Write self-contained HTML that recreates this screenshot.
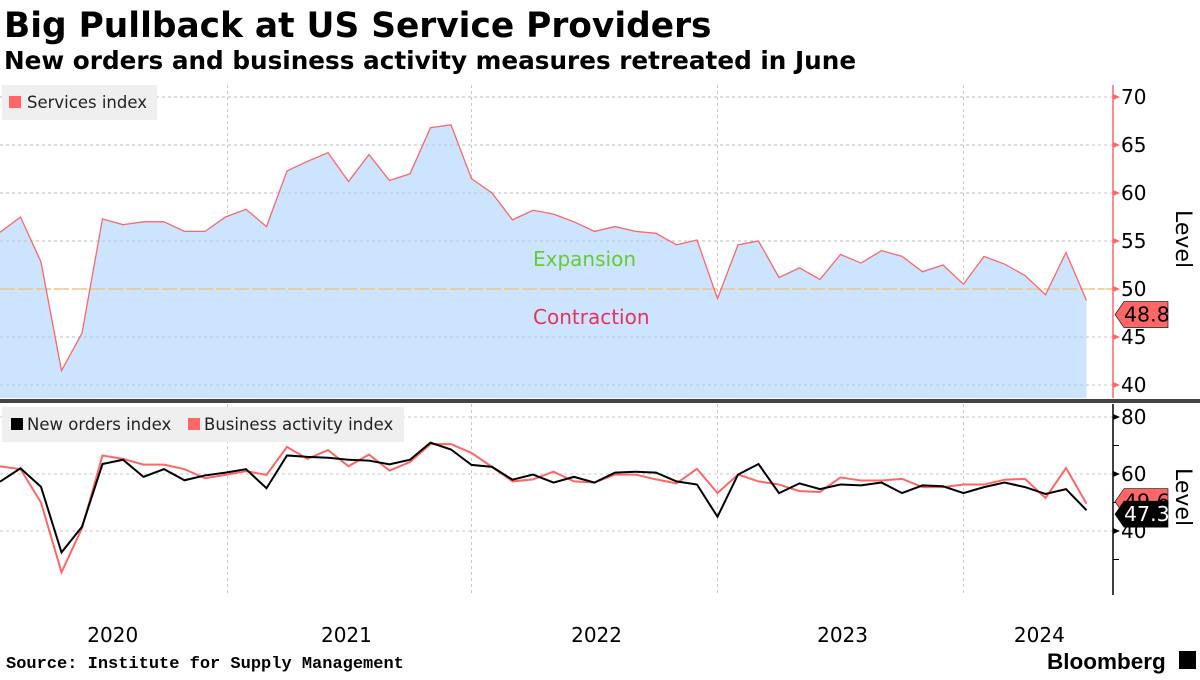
<!DOCTYPE html>
<html><head><meta charset="utf-8"><style>
body{margin:0;background:#fff;font-family:"Liberation Sans",sans-serif;}
svg text{font-family:"DejaVu Sans","Liberation Sans",sans-serif;}
</style></head><body>
<svg id="c" width="1200" height="675" viewBox="0 0 1200 675" xmlns="http://www.w3.org/2000/svg">
<text x="4" y="37" font-size="34.4" font-weight="bold" fill="#000" style="font-family:'DejaVu Sans',sans-serif">Big Pullback at US Service Providers</text>
<text x="4" y="69" font-size="24.7" font-weight="bold" fill="#000" style="font-family:'DejaVu Sans',sans-serif">New orders and business activity measures retreated in June</text>
<g id="top"></g><g id="bot"></g><g id="xax"></g>
<rect x="0" y="399" width="1200" height="4" fill="#444"/>
<rect x="2" y="85" width="155" height="35" fill="#efefef"/>
<rect x="9" y="96" width="12" height="12" fill="#f66"/>
<text x="27" y="108" font-size="16.5" fill="#222">Services index</text>
<rect x="2" y="407" width="402" height="35" fill="#efefef"/>
<rect x="11" y="418" width="12" height="12" fill="#000"/>
<text x="27" y="430" font-size="16.5" fill="#222">New orders index</text>
<rect x="188" y="418" width="12" height="12" fill="#f66"/>
<text x="204" y="430" font-size="16.5" fill="#222">Business activity index</text>
<text x="533" y="266" font-size="20" fill="#6c3">Expansion</text>
<text x="533" y="324" font-size="20" fill="#e8325a">Contraction</text>
<text transform="translate(1176,210) rotate(90)" font-size="22" fill="#000">Level</text>
<text transform="translate(1176,468) rotate(90)" font-size="22" fill="#000">Level</text>
<text x="6" y="668" font-size="17" font-weight="bold" fill="#000" style="font-family:'Liberation Mono',monospace">Source: Institute for Supply Management</text>
<text x="1047" y="669" font-size="22.5" font-weight="bold" fill="#000" style="font-family:'Liberation Sans',sans-serif">Bloomberg</text>
<rect x="1179" y="651" width="17" height="18" fill="#000"/>
</svg>
<script>
const services=[55.9,57.5,52.8,41.5,45.4,57.3,56.7,57,57,56,56,57.5,58.3,56.5,62.3,63.3,64.2,61.2,64,61.3,62,66.8,67.1,61.5,60,57.2,58.2,57.8,57,56,56.5,56,55.8,54.6,55.1,49,54.6,55,51.2,52.2,51,53.6,52.7,54,53.4,51.8,52.5,50.5,53.4,52.6,51.4,49.4,53.8,48.8];
const newOrders=[57.3,62,55.5,32.5,41.5,63.5,65,59,61.7,57.8,59.5,60.5,61.7,55,66.5,66,65.7,65,64.7,63.4,65,71,68.6,63.2,62.5,58,59.8,57,59,57,60.5,60.8,60.5,57.4,56.3,45,59.8,63.5,53.3,56.7,54.7,56.3,56,57,53.3,56,55.7,53.3,55.4,57,55.4,53,54.7,47.3];
const businessActivity=[62.7,61.7,50,25.5,41,66.5,65.3,63.3,63.3,61.7,58.5,59.7,61,59.7,69.5,65.3,68.4,62.7,66.8,61.2,64.2,70.5,70.5,67.4,62.5,57.4,58.1,60.8,57.4,57,59.8,59.8,58.1,56.7,61.8,53.3,59.8,57.4,56.3,54,53.7,58.8,57.7,57.7,58.3,55.4,55.4,56.3,56.3,58,58.3,51.6,62.1,49.6];
const yearLabels=["2020","2021","2022","2023","2024"];
const yearLabelIdx=[5.5,16.9,29.1,41.1,50.7];
const yearGridIdx=[11.1,23,35,47];
const topTicks=[40,45,50,55,60,65,70];
const botTicks=[40,60,80];
const NS="http://www.w3.org/2000/svg";
const X=i=>i*20.5;
const YT=v=>289-(v-50)*9.6;
const YB=v=>417+(80-v)*2.85;
const AX=1113;
function mk(parent,tag,attrs){const e=document.createElementNS(NS,tag);for(const k in attrs)e.setAttribute(k,attrs[k]);document.getElementById(parent).appendChild(e);return e;}
topTicks.forEach(t=>{
 let g=mk('top','line',{x1:0,x2:AX,y1:YT(t),y2:YT(t),stroke:'#c8c8c8','stroke-dasharray':'3,3'});
 
 
});
yearGridIdx.forEach(i=>{
 let g=mk('top','line',{x1:X(i),x2:X(i),y1:85,y2:398,stroke:'#c8c8c8','stroke-dasharray':'3,3'});
 
 
 let h=mk('bot','line',{x1:X(i),x2:X(i),y1:404,y2:595,stroke:'#c8c8c8','stroke-dasharray':'3,3'});
 
 
});
let pts=services.map((v,i)=>X(i)+','+YT(v)).join(' ');
let area=mk('top','polygon',{points:pts+' '+X(services.length-1)+',398 0,398',fill:'#cce4fd'});


topTicks.forEach(t=>{
 let g=mk('top','line',{x1:0,x2:1088,y1:YT(t),y2:YT(t),stroke:'#b0b8c0','stroke-dasharray':'3,3','stroke-width':0.7});
 
 
});
let thr=mk('top','line',{x1:0,x2:AX,y1:YT(50),y2:YT(50),stroke:'#f5c37a','stroke-dasharray':'6,3','stroke-width':1.5});


let sl=mk('top','polyline',{points:pts,fill:'none',stroke:'#f66','stroke-width':1.3});


let ta=mk('top','line',{x1:AX,x2:AX,y1:85,y2:398,stroke:'#f66','stroke-width':1.5});


topTicks.forEach(t=>{
 let tk=mk('top','polygon',{points:`${AX},${YT(t)-3} ${AX+7},${YT(t)} ${AX},${YT(t)+3}`,fill:'#f66'});
 
 
 let l=mk('top','text',{x:AX+8,y:YT(t)+7,'font-size':20,fill:'#000'});
 l.textContent=t;
 
 
});
function valueLabel(parent,y,txt,bg,fg,name){
 let p=mk(parent,'polygon',{points:`${AX+2},${y} ${AX+11},${y-13} ${AX+55},${y-13} ${AX+55},${y+13} ${AX+11},${y+13}`,fill:bg,stroke:'#000','stroke-width':0.6});
 
 
 let t=mk(parent,'text',{x:AX+11,y:y+7,'font-size':20.5,fill:fg});
 t.textContent=txt;
 
 
}
valueLabel('top',YT(services[services.length-1])+14,services[services.length-1].toFixed(1),'#f66','#000','services-last-value');
botTicks.forEach(t=>{
 let g=mk('bot','line',{x1:0,x2:AX,y1:YB(t),y2:YB(t),stroke:'#c8c8c8','stroke-dasharray':'3,3'});
 
 
});
let bl=mk('bot','polyline',{points:businessActivity.map((v,i)=>X(i)+','+YB(v)).join(' '),fill:'none',stroke:'#f66','stroke-width':2});


let nl=mk('bot','polyline',{points:newOrders.map((v,i)=>X(i)+','+YB(v)).join(' '),fill:'none',stroke:'#000','stroke-width':2});


let ba=mk('bot','line',{x1:AX,x2:AX,y1:404,y2:595,stroke:'#000','stroke-width':1.5});


[30,50,70].forEach(t=>{
 let m=mk('bot','line',{x1:AX,x2:AX+6,y1:YB(t),y2:YB(t),stroke:'#000'});
 
 
});
botTicks.forEach(t=>{
 let tk=mk('bot','polygon',{points:`${AX},${YB(t)-3} ${AX+7},${YB(t)} ${AX},${YB(t)+3}`,fill:'#000'});
 
 
 let l=mk('bot','text',{x:AX+8,y:YB(t)+7,'font-size':20,fill:'#000'});
 l.textContent=t;
 
 
});
valueLabel('bot',YB(businessActivity[businessActivity.length-1])-2,businessActivity[businessActivity.length-1].toFixed(1),'#f66','#000','business-activity-last-value');
valueLabel('bot',YB(newOrders[newOrders.length-1])+4,newOrders[newOrders.length-1].toFixed(1),'#000','#fff','new-orders-last-value');
yearLabels.forEach((y,k)=>{
 let t=mk('xax','text',{x:X(yearLabelIdx[k]),y:642,'font-size':20,fill:'#000','text-anchor':'middle'});
 t.textContent=y;
 
 
});
</script>
</body></html>
